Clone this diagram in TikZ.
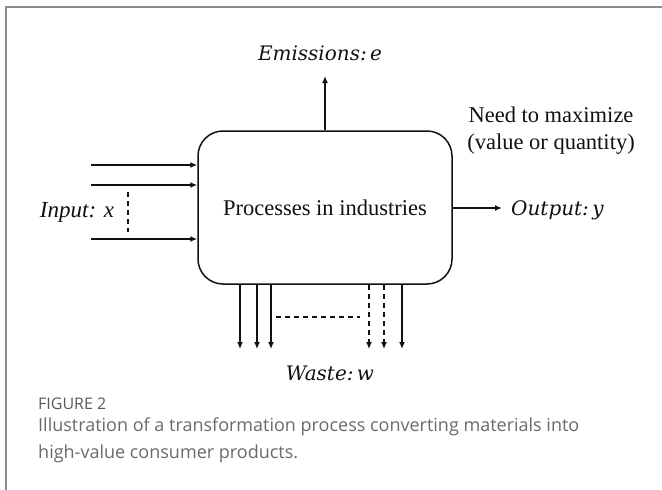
\documentclass[tikz,border=0pt]{standalone}
\usepackage{fontspec}
\setmainfont{Liberation Serif}
\newfontfamily\mathlike{DejaVu Serif}
\newfontfamily\capfont{Open Sans}
\usepackage{tikz}
\usetikzlibrary{arrows.meta}
\definecolor{ink}{HTML}{111111}
\definecolor{frame}{HTML}{8C8C8C}
\definecolor{capgray}{HTML}{6A6A6A}
\definecolor{figgray}{HTML}{5A5A5A}
\tikzset{
  line/.style={draw=ink, line width=1.5pt},
  arr/.style={line, -{Latex[length=7pt,width=6pt]}},
  dashedline/.style={draw=ink, line width=1.5pt, dash pattern=on 5pt off 4pt},
  darr/.style={dashedline, -{Latex[length=7pt,width=6pt]}},
  procbox/.style={draw=ink, line width=1.5pt, rounded corners=25pt, minimum width=254pt, minimum height=153pt, inner sep=0pt},
  lbl/.style={text=ink, font=\fontsize{22.5}{27}\selectfont, inner sep=0pt},
  vlbl/.style={text=ink, font=\mathlike\itshape\fontsize{20}{24}\selectfont, inner sep=0pt},
  caplbl/.style={text=capgray, font=\capfont\fontsize{18}{27}\selectfont, inner sep=0pt, align=left}
}

\begin{document}
\begin{tikzpicture}[x=1pt, y=-1pt]
  \useasboundingbox (0,0) rectangle (662,490);
  \draw[frame, line width=2pt] (6,490) -- (6,7) -- (662,7);

  \node[procbox] (proc) at (325,207.5) {};
  \node[lbl] (ptext) at (proc.center) {Processes in industries};

  \coordinate (E) at (325,76);
  \coordinate (Y) at (502,208);
  \coordinate (x1) at (91,165);
  \coordinate (x2) at (91,185);
  \coordinate (x3) at (91,239);
  \coordinate (w1) at (240,349);
  \coordinate (w2) at (257,349);
  \coordinate (w3) at (271,349);
  \coordinate (w4) at (369,349);
  \coordinate (w5) at (384,349);
  \coordinate (w6) at (402,349);

  \node[vlbl] (emis) at (320,53) {Emissions:\,e};
  \node[vlbl, anchor=west] (outp) at (511,210) {Output:\,y};
  \node[lbl, font=\itshape\fontsize{23}{27}\selectfont] (inp) at (77,212) {Input: x};
  \node[vlbl] (waste) at (330,373) {Waste:\,w};
  \node[lbl, align=center] (need) at (551,131) {Need to maximize\\(value or quantity)};

  % flows in and out
  \draw[arr] (proc.north -| E) -- (E);
  \draw[arr] (proc.east |- Y) -- (Y);
  \foreach \i in {1,2,3}
    \draw[arr] (x\i) -- (proc.west |- x\i);
  \draw[dashedline] (128,192) -- (128,232);

  % waste streams
  \foreach \i in {1,2,3,6}
    \draw[arr] (proc.south -| w\i) -- (w\i);
  \foreach \i in {4,5}
    \draw[darr] (proc.south -| w\i) -- (w\i);
  \draw[dashedline] (276,317) -- (360,317);

  \node[caplbl, text=figgray, font=\capfont\fontsize{16}{20}\selectfont, anchor=west] (fig) at (38,404) {FIGURE 2};
  \node[caplbl, anchor=north west] (cap) at (38,418) {Illustration of a transformation process converting materials into\\high-value consumer products.};
\end{tikzpicture}
\end{document}
